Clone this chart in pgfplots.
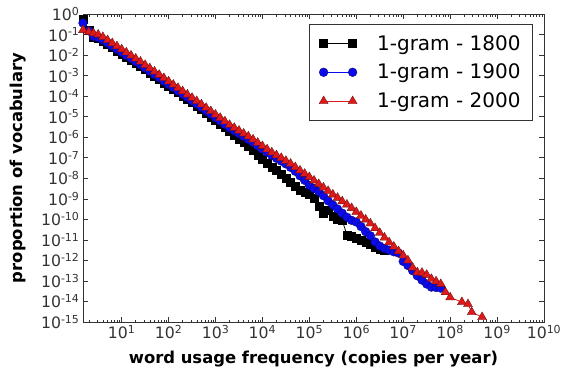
\documentclass[border=0pt]{standalone}
\usepackage{fontspec}
\setmainfont{DejaVu Sans}
\usepackage{pgfplots}
\pgfplotsset{compat=1.18}
\definecolor{mplblue}{RGB}{10,10,235}
\definecolor{mplred}{RGB}{222,25,25}
\begin{document}
\begin{tikzpicture}
\useasboundingbox (-83pt,-56pt) rectangle (480pt,322pt);
\begin{axis}[
  at={(0,0)}, anchor=south west,
  xmode=log, ymode=log, log basis x=10, log basis y=10,
  scale only axis, width=461pt, height=308pt,
  xmin=1.5, xmax=1e10, ymin=1e-15, ymax=1,
  xtick={1e1,1e2,1e3,1e4,1e5,1e6,1e7,1e8,1e9,1e10},
  xticklabels={10\textsuperscript{1},10\textsuperscript{2},10\textsuperscript{3},10\textsuperscript{4},10\textsuperscript{5},10\textsuperscript{6},10\textsuperscript{7},10\textsuperscript{8},10\textsuperscript{9},10\textsuperscript{10}},
  minor xtick={2,3,4,5,6,7,8,9,
    20,30,40,50,60,70,80,90,
    200,300,400,500,600,700,800,900,
    2e3,3e3,4e3,5e3,6e3,7e3,8e3,9e3,
    2e4,3e4,4e4,5e4,6e4,7e4,8e4,9e4,
    2e5,3e5,4e5,5e5,6e5,7e5,8e5,9e5,
    2e6,3e6,4e6,5e6,6e6,7e6,8e6,9e6,
    2e7,3e7,4e7,5e7,6e7,7e7,8e7,9e7,
    2e8,3e8,4e8,5e8,6e8,7e8,8e8,9e8,
    2e9,3e9,4e9,5e9,6e9,7e9,8e9,9e9},
  ytick={1e-15,1e-14,1e-13,1e-12,1e-11,1e-10,1e-9,1e-8,1e-7,1e-6,1e-5,1e-4,1e-3,1e-2,1e-1,1},
  yticklabels={10\textsuperscript{-15},10\textsuperscript{-14},10\textsuperscript{-13},10\textsuperscript{-12},10\textsuperscript{-11},10\textsuperscript{-10},10\textsuperscript{-9},10\textsuperscript{-8},10\textsuperscript{-7},10\textsuperscript{-6},10\textsuperscript{-5},10\textsuperscript{-4},10\textsuperscript{-3},10\textsuperscript{-2},10\textsuperscript{-1},10\textsuperscript{0}},
  tick label style={font=\fontsize{15.7}{18}\selectfont, text=black!80},
  major tick length=5pt, minor tick length=2.5pt,
  tick style={black!80, line width=0.6pt},
  minor y tick style={draw=none},
  axis line style={black!80, line width=0.9pt},
  xlabel={word usage frequency (copies per year)},
  ylabel={proportion of vocabulary},
  label style={font=\fontsize{16.4}{19}\selectfont\bfseries},
  xlabel style={at={(axis description cs:0.5,-0.1201)}, anchor=center},
  ylabel style={at={(axis description cs:-0.141,0.5)}, anchor=center},
  legend cell align=left,
  legend image code/.code={\draw[mark repeat=2,mark phase=1,#1] plot coordinates {(0pt,0pt) (14.5pt,0pt) (29pt,0pt)};},
  legend style={at={(axis description cs:0.976,0.968)}, anchor=north east,
    draw=black!80, line width=0.8pt, font=\fontsize{20}{24}\selectfont,
    inner xsep=10pt, inner ysep=9pt, row sep=8.5pt,
    /tikz/every odd column/.append style={column sep=18pt}},
]
\addplot[black, line width=0.8pt, mark=square*, mark size=4pt, mark options={solid, fill=black, draw=black, line width=0.3pt}] coordinates {
(1.5,5.75e-1) (1.995,1.58e-1) (2.512,7.24e-2) (3.162,6.31e-2) (3.981,4.79e-2) (5.012,3.39e-2) (6.31,2.34e-2) (7.943,1.62e-2)
(1e1,1.15e-2) (1.259e1,7.94e-3) (1.585e1,5.62e-3) (1.995e1,3.98e-3) (2.512e1,2.82e-3) (3.162e1,1.95e-3) (3.981e1,1.35e-3) (5.012e1,9.33e-4) (6.31e1,6.46e-4) (7.943e1,4.47e-4)
(1e2,3.09e-4) (1.259e2,2.14e-4) (1.585e2,1.48e-4) (1.995e2,1.02e-4) (2.512e2,7.08e-5) (3.162e2,4.90e-5) (3.981e2,3.39e-5) (5.012e2,2.24e-5) (6.31e2,1.48e-5) (7.943e2,1.00e-5)
(1e3,6.76e-6) (1.259e3,4.57e-6) (1.585e3,3.09e-6) (1.995e3,2.00e-6) (2.512e3,1.26e-6) (3.162e3,7.94e-7) (3.981e3,5.50e-7) (5.012e3,3.72e-7) (6.31e3,2.24e-7) (7.943e3,1.41e-7)
(1e4,8.32e-8) (1.259e4,5.25e-8) (1.585e4,3.55e-8) (1.995e4,2.40e-8) (2.512e4,1.66e-8) (3.162e4,1.05e-8) (3.981e4,6.31e-9) (5.012e4,3.98e-9) (6.31e4,2.51e-9) (7.943e4,2.00e-9)
(1e5,1.66e-9) (1.259e5,1.12e-9) (1.585e5,4.47e-10) (1.995e5,2.09e-10) (2.512e5,2.82e-10) (3.162e5,1.41e-10) (3.981e5,1.07e-10) (5.012e5,8.91e-11) (6.31e5,1.74e-11) (7.943e5,1.51e-11)
(1e6,1.26e-11) (1.259e6,1.00e-11) (1.585e6,7.59e-12) (1.995e6,6.31e-12) (2.512e6,4.47e-12) (3.162e6,3.55e-12) (3.981e6,3.16e-12)
};
\addlegendentry{1-gram - 1800}
\addplot[mplblue, line width=0.8pt, mark=*, mark size=4.4pt, mark options={solid, fill=mplblue, draw=black!60!mplblue, line width=0.3pt}] coordinates {
(1.5,3.63e-1) (1.995,1.51e-1) (2.512,8.13e-2) (3.162,7.08e-2) (3.981,5.37e-2) (5.012,3.80e-2) (6.31,2.69e-2) (7.943,1.91e-2)
(1e1,1.35e-2) (1.259e1,9.55e-3) (1.585e1,6.76e-3) (1.995e1,4.79e-3) (2.512e1,3.39e-3) (3.162e1,2.34e-3) (3.981e1,1.62e-3) (5.012e1,1.12e-3) (6.31e1,7.76e-4) (7.943e1,5.37e-4)
(1e2,3.72e-4) (1.259e2,2.57e-4) (1.585e2,1.78e-4) (1.995e2,1.23e-4) (2.512e2,8.51e-5) (3.162e2,5.89e-5) (3.981e2,4.07e-5) (5.012e2,2.82e-5) (6.31e2,1.91e-5) (7.943e2,1.32e-5)
(1e3,8.91e-6) (1.259e3,6.17e-6) (1.585e3,4.17e-6) (1.995e3,2.82e-6) (2.512e3,2.04e-6) (3.162e3,1.48e-6) (3.981e3,1.07e-6) (5.012e3,7.76e-7) (6.31e3,5.50e-7) (7.943e3,3.80e-7)
(1e4,2.63e-7) (1.259e4,1.82e-7) (1.585e4,1.29e-7) (1.995e4,9.33e-8) (2.512e4,6.92e-8) (3.162e4,5.01e-8) (3.981e4,3.39e-8) (5.012e4,2.19e-8) (6.31e4,1.32e-8) (7.943e4,7.94e-9)
(1e5,4.47e-9) (1.259e5,3.16e-9) (1.585e5,2.24e-9) (1.995e5,1.41e-9) (2.512e5,7.94e-10) (3.162e5,5.01e-10) (3.981e5,3.16e-10) (5.012e5,2.00e-10) (6.31e5,1.26e-10) (7.943e5,8.91e-11)
(1e6,7.41e-11) (1.259e6,4.47e-11) (1.585e6,2.51e-11) (1.995e6,1.58e-11) (2.512e6,7.94e-12) (3.162e6,5.01e-12) (3.981e6,3.80e-12) (5.012e6,3.16e-12) (6.31e6,2.63e-12) (7.943e6,2.29e-12)
(1e7,8.91e-13) (1.259e7,5.62e-13) (1.585e7,3.16e-13) (1.995e7,1.78e-13) (2.512e7,1.10e-13) (3.162e7,7.08e-14) (3.981e7,5.01e-14) (5.012e7,4.79e-14) (6.31e7,4.47e-14)
};
\addlegendentry{1-gram - 1900}
\addplot[mplred, line width=0.8pt, mark=triangle*, mark size=5.2pt, mark options={solid, fill=mplred, draw=black!55!mplred, line width=0.3pt}] coordinates {
(1.5,1.66e-1) (1.995,1.35e-1) (2.512,1.15e-1) (3.162,1.00e-1) (3.981,7.59e-2) (5.012,5.37e-2) (6.31,3.80e-2) (7.943,2.69e-2)
(1e1,1.91e-2) (1.259e1,1.35e-2) (1.585e1,9.55e-3) (1.995e1,6.76e-3) (2.512e1,4.79e-3) (3.162e1,3.31e-3) (3.981e1,2.29e-3) (5.012e1,1.58e-3) (6.31e1,1.10e-3) (7.943e1,7.59e-4)
(1e2,5.25e-4) (1.259e2,3.63e-4) (1.585e2,2.51e-4) (1.995e2,1.74e-4) (2.512e2,1.20e-4) (3.162e2,8.32e-5) (3.981e2,5.75e-5) (5.012e2,3.98e-5) (6.31e2,2.69e-5) (7.943e2,1.86e-5)
(1e3,1.26e-5) (1.259e3,8.71e-6) (1.585e3,5.89e-6) (1.995e3,3.98e-6) (2.512e3,2.88e-6) (3.162e3,2.09e-6) (3.981e3,1.51e-6) (5.012e3,1.10e-6) (6.31e3,7.76e-7) (7.943e3,5.37e-7)
(1e4,3.72e-7) (1.259e4,2.57e-7) (1.585e4,1.82e-7) (1.995e4,1.32e-7) (2.512e4,9.77e-8) (3.162e4,7.08e-8) (3.981e4,5.13e-8) (5.012e4,3.47e-8) (6.31e4,2.40e-8) (7.943e4,1.66e-8)
(1e5,1.15e-8) (1.259e5,7.76e-9) (1.585e5,5.25e-9) (1.995e5,3.55e-9) (2.512e5,2.40e-9) (3.162e5,1.62e-9) (3.981e5,1.12e-9) (5.012e5,7.59e-10) (6.31e5,5.25e-10) (7.943e5,3.55e-10)
(1e6,2.29e-10) (1.259e6,1.51e-10) (1.585e6,9.77e-11) (1.995e6,6.31e-11) (2.512e6,3.72e-11) (3.162e6,2.19e-11) (3.981e6,1.29e-11) (5.012e6,7.59e-12) (6.31e6,4.68e-12) (7.943e6,2.82e-12)
(1e7,1.74e-12) (1.259e7,1.00e-12) (1.585e7,4.47e-13) (1.995e7,2.63e-13) (2.512e7,2.51e-13) (3.162e7,2.00e-13) (3.981e7,1.26e-13) (5.012e7,9.55e-14) (6.31e7,7.08e-14) (7.943e7,2.82e-14)
(1e8,1.58e-14) (1.778e8,9.33e-15) (2.40e8,7.41e-15) (2.88e8,3.02e-15) (4.79e8,1.74e-15)
};
\addlegendentry{1-gram - 2000}
\end{axis}
\end{tikzpicture}
\end{document}
